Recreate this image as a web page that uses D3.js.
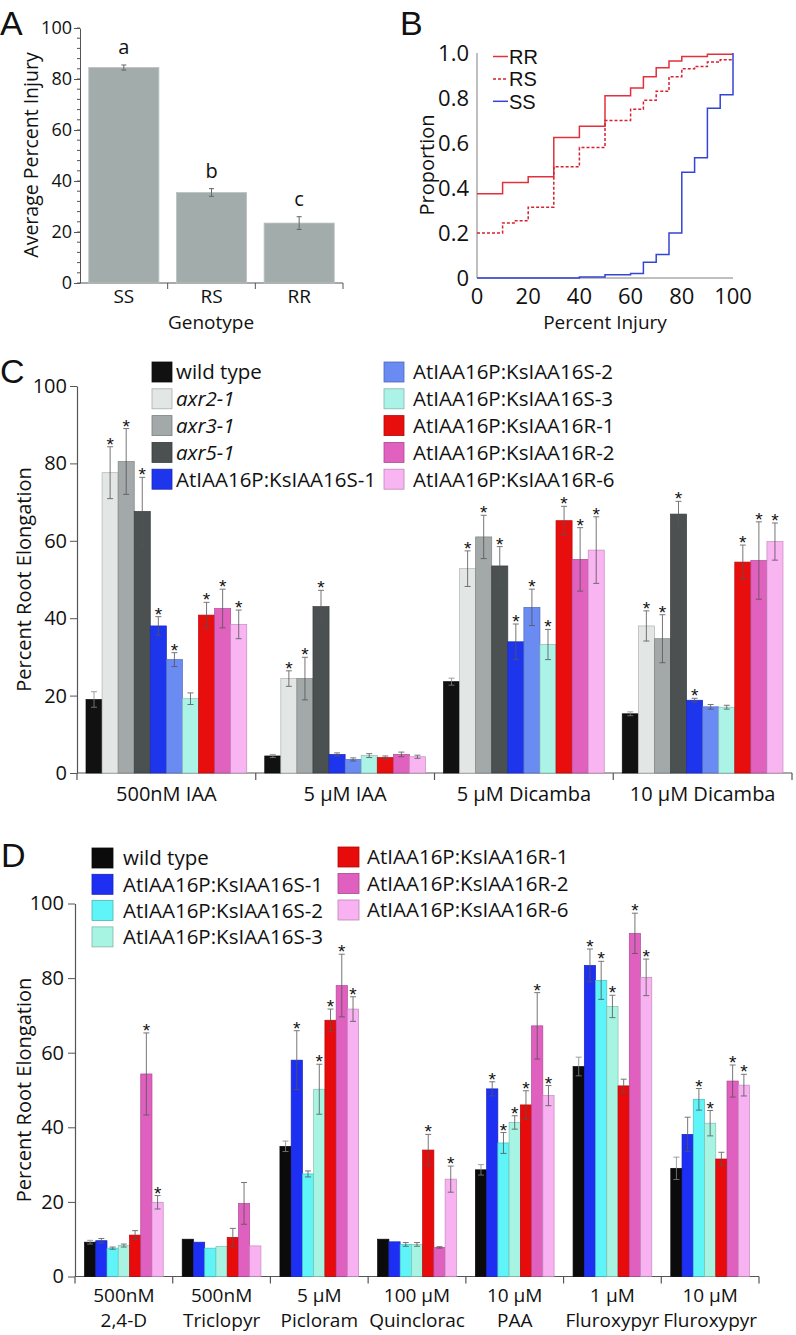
<!DOCTYPE html>
<html><head><meta charset="utf-8">
<script src="https://cdn.jsdelivr.net/npm/d3@7"></script>
<style>
body{margin:0;background:#fff}
svg{display:block}
text{font-family:"Open Sans",sans-serif;fill:#111}
</style>
</head><body>
<svg id="chart" width="796" height="1335"></svg>
<script>
// ---------- Panel A data ----------
const genotypes = ["SS","RS","RR"];
const injuryMean = [84.5, 35.5, 23.5];
const injuryErr = [1.0, 1.5, 2.5];
const injuryLetters = ["a","b","c"];
const aTicks = [0,20,40,60,80,100];

// ---------- Panel B data (cumulative proportion, step functions) ----------
const cdfRRx = [0,10,20,30,40,50,60,65,70,75,80,90,100];
const cdfRRy = [0.375,0.425,0.45,0.625,0.675,0.81,0.845,0.895,0.935,0.965,0.985,0.995,0.995];
const cdfRSx = [0,10,15,20,30,40,50,60,65,70,75,80,85,90,95,100];
const cdfRSy = [0.2,0.245,0.255,0.315,0.495,0.58,0.70,0.75,0.79,0.83,0.895,0.93,0.94,0.96,0.97,0.97];
const cdfSSx = [0,40,50,60,65,70,75,80,85,90,95,100];
const cdfSSy = [0,0.005,0.015,0.02,0.07,0.105,0.20,0.47,0.535,0.755,0.815,1.0];
const bYTicks = [0,0.2,0.4,0.6,0.8,1.0];
const bYTickLabels = ["0","0.2","0.4","0.6","0.8","1.0"];
const bXTicks = [0,20,40,60,80,100];

// ---------- Panel C data ----------
const cTreatments = ["500nM IAA","5 \u03BCM IAA","5 \u03BCM Dicamba","10 \u03BCM Dicamba"];
const cLines = ["wild type","axr2-1","axr3-1","axr5-1","AtIAA16P:KsIAA16S-1","AtIAA16P:KsIAA16S-2","AtIAA16P:KsIAA16S-3","AtIAA16P:KsIAA16R-1","AtIAA16P:KsIAA16R-2","AtIAA16P:KsIAA16R-6"];
const cColors = ["#111111","#e2e6e4","#a3a9a8","#4b5051","#1e35ee","#6a8bf2","#abf3e6","#e80e0e","#e062be","#f9b5f1"];
const cItalic = [false,true,true,true,false,false,false,false,false,false];
const c500nMIAA     = [19.0,77.6,80.5,67.6,38.0,29.3,19.2,40.8,42.5,38.4];
const c500nMIAAErr  = [2.0,6.7,8.5,8.8,2.4,1.8,1.5,3.3,5.0,3.7];
const c500nMIAAStar = [0,1,1,1,1,1,0,1,1,1];
const c5uMIAA       = [4.4,24.4,24.4,43.0,4.8,3.5,4.5,4.0,4.8,4.2];
const c5uMIAAErr    = [0.4,2.0,5.5,4.2,0.4,0.4,0.5,0.4,0.6,0.4];
const c5uMIAAStar   = [0,1,1,1,0,0,0,0,0,0];
const c5uMDic       = [23.6,52.8,61.0,53.5,33.9,42.8,33.2,65.2,55.2,57.6];
const c5uMDicErr    = [0.9,4.6,5.6,5.0,4.6,4.7,3.9,3.7,8.2,8.6];
const c5uMDicStar   = [0,1,1,1,1,1,1,1,1,1];
const c10uMDic      = [15.3,38.0,34.7,66.9,18.8,17.1,17.0,54.5,54.9,59.8];
const c10uMDicErr   = [0.5,3.9,6.2,3.3,0.5,0.6,0.5,4.4,10.0,4.8];
const c10uMDicStar  = [0,1,1,1,1,0,0,1,1,1];
const cTicks = [0,20,40,60,80,100];

// ---------- Panel D data ----------
const dLine1 = ["500nM","500nM","5 \u03BCM","100 \u03BCM","10 \u03BCM","1 \u03BCM","10 \u03BCM"];
const dLine2 = ["2,4-D","Triclopyr","Picloram","Quinclorac","PAA","Fluroxypyr","Fluroxypyr"];
const dLines = ["wild type","AtIAA16P:KsIAA16S-1","AtIAA16P:KsIAA16S-2","AtIAA16P:KsIAA16S-3","AtIAA16P:KsIAA16R-1","AtIAA16P:KsIAA16R-2","AtIAA16P:KsIAA16R-6"];
const dColors = ["#0b0b0b","#1e2ff4","#5ff4f7","#a8f4e2","#e80b0b","#e060c0","#f8b2f1"];
const d24D        = [9.2,9.6,7.6,8.3,11.1,54.3,19.9];
const d24DErr     = [0.5,0.6,0.3,0.4,1.2,11.0,1.8];
const d24DStar    = [0,0,0,0,0,1,1];
const dTric       = [10.0,9.2,7.6,8.1,10.5,19.6,8.2];
const dTricErr    = [0,0,0,0,2.4,5.6,0];
const dTricStar   = [0,0,0,0,0,0,0];
const dPicl       = [34.9,58.0,27.5,50.2,68.7,78.0,71.7];
const dPiclErr    = [1.4,7.9,0.8,6.7,3.0,8.4,3.3];
const dPiclStar   = [0,1,0,1,1,1,1];
const dQuin       = [10.0,9.3,8.6,8.6,33.9,7.8,26.1];
const dQuinErr    = [0,0,0.5,0.5,4.2,0.2,3.5];
const dQuinStar   = [0,0,0,0,1,0,1];
const dPAA        = [28.6,50.3,35.8,41.3,46.0,67.2,48.5];
const dPAAErr     = [1.4,1.9,2.8,1.8,3.8,8.9,2.7];
const dPAAStar    = [0,1,1,1,1,1,1];
const dFlx1       = [56.3,83.4,79.4,72.4,51.1,92.0,80.2];
const dFlx1Err    = [2.5,4.4,5.1,3.0,1.8,5.4,4.9];
const dFlx1Star   = [0,1,1,1,0,1,1];
const dFlx10      = [29.0,38.1,47.5,41.1,31.5,52.4,51.3];
const dFlx10Err   = [3.0,4.6,2.9,3.4,1.8,4.3,2.9];
const dFlx10Star  = [0,0,1,1,0,1,1];
const dTicks = [0,20,40,60,80,100];

const svg = d3.select("#chart");
const AX = "#555";
const LIB = "'Liberation Sans', Arial, sans-serif";

function panelLetter(t, x, y){
  svg.append("text").attr("x",x).attr("y",y).attr("font-size",34)
    .style("font-family",LIB).text(t);
}

// ================= Panel A =================
panelLetter("A", 0, 35);
{
  const y = d3.scaleLinear().domain([0,100]).range([283,28]);
  const x = d3.scaleBand().domain(genotypes).range([80,343]).paddingInner(0.2).paddingOuter(0.1);
  const g = svg.append("g");
  g.append("g").selectAll("line").data(d3.range(0,101,4)).join("line")
    .attr("x1",77).attr("x2",80).attr("y1",d=>y(d)).attr("y2",d=>y(d)).attr("stroke",AX);
  const ya = g.append("g").attr("transform","translate(80,0)")
    .call(d3.axisLeft(y).tickValues(aTicks).tickSize(6).tickSizeOuter(0));
  ya.select(".domain").attr("stroke",AX);
  ya.selectAll(".tick line").attr("stroke",AX);
  ya.selectAll(".tick text").attr("font-size",18).attr("font-family","Open Sans").attr("fill","#111").attr("x",-8);
  g.append("line").attr("x1",80).attr("x2",343).attr("y1",y(0)).attr("y2",y(0)).attr("stroke",AX);
  g.append("g").selectAll("line").data(genotypes).join("line")
    .attr("x1",(d,i)=>80+x.step()*(i+1)).attr("x2",(d,i)=>80+x.step()*(i+1))
    .attr("y1",y(0)).attr("y2",y(0)+6).attr("stroke",AX);
  g.append("g").selectAll("rect").data(genotypes).join("rect")
    .attr("x",d=>x(d)).attr("width",x.bandwidth())
    .attr("y",(d,i)=>y(injuryMean[i])).attr("height",(d,i)=>y(0)-y(injuryMean[i]))
    .attr("fill","#a2adab").attr("stroke","#b9c3c1").attr("stroke-width",0.8);
  const eb = g.append("g").attr("stroke","#666").attr("stroke-width",1);
  genotypes.forEach((d,i)=>{
    const cx = x(d)+x.bandwidth()/2;
    eb.append("line").attr("x1",cx).attr("x2",cx).attr("y1",y(injuryMean[i]-injuryErr[i])).attr("y2",y(injuryMean[i]+injuryErr[i]));
    [injuryMean[i]-injuryErr[i], injuryMean[i]+injuryErr[i]].forEach(v=>
      eb.append("line").attr("x1",cx-2.5).attr("x2",cx+2.5).attr("y1",y(v)).attr("y2",y(v)));
    g.append("text").attr("x",cx).attr("y",y(injuryMean[i]+injuryErr[i])-11).attr("text-anchor","middle")
      .attr("font-size",20).text(injuryLetters[i]);
    g.append("text").attr("x",cx).attr("y",303).attr("text-anchor","middle").attr("font-size",19).text(d);
  });
  g.append("text").attr("x",211).attr("y",329).attr("text-anchor","middle").attr("font-size",19).text("Genotype");
  g.append("text").attr("transform","translate(38,155) rotate(-90)").attr("text-anchor","middle")
    .attr("font-size",19.5).text("Average Percent Injury");
}

// ================= Panel B =================
panelLetter("B", 400, 35);
{
  const x = d3.scaleLinear().domain([0,100]).range([477,733]);
  const y = d3.scaleLinear().domain([0,1]).range([278,53]);
  const g = svg.append("g");
  g.append("line").attr("x1",x(0)).attr("x2",x(0)).attr("y1",y(0)).attr("y2",y(1)).attr("stroke","#aaa").attr("stroke-width",1.5);
  g.append("line").attr("x1",x(0)).attr("x2",x(100)).attr("y1",y(0)).attr("y2",y(0)).attr("stroke","#aaa").attr("stroke-width",1.5);
  g.append("g").selectAll("text").data(bYTicks).join("text")
    .attr("x",469).attr("y",d=>y(d)).attr("dy","0.36em").attr("text-anchor","end").attr("font-size",22)
    .text((d,i)=>bYTickLabels[i]);
  g.append("g").selectAll("text").data(bXTicks).join("text")
    .attr("x",d=>x(d)).attr("y",304).attr("text-anchor","middle").attr("font-size",22).text(d=>d);
  g.append("text").attr("x",605).attr("y",329).attr("text-anchor","middle").attr("font-size",19).text("Percent Injury");
  g.append("text").attr("transform","translate(434,165) rotate(-90)").attr("text-anchor","middle")
    .attr("font-size",20).text("Proportion");
  const line = d3.line().x(d=>x(d[0])).y(d=>y(d[1])).curve(d3.curveStepAfter);
  const series = [
    {name:"RR", xs:cdfRRx, ys:cdfRRy, color:"#e2303c", dash:null},
    {name:"RS", xs:cdfRSx, ys:cdfRSy, color:"#d8202e", dash:"3,2"},
    {name:"SS", xs:cdfSSx, ys:cdfSSy, color:"#3344d6", dash:null}
  ];
  series.forEach((s,i)=>{
    g.append("path").datum(s.xs.map((v,j)=>[v,s.ys[j]])).attr("d",line)
      .attr("fill","none").attr("stroke",s.color).attr("stroke-width",1.5)
      .attr("stroke-dasharray",s.dash);
    const ly = 56.5 + i*22.4;
    g.append("line").attr("x1",493).attr("x2",508).attr("y1",ly).attr("y2",ly)
      .attr("stroke",s.color).attr("stroke-width",1.5).attr("stroke-dasharray",s.dash);
    g.append("text").attr("x",509).attr("y",ly).attr("dy","0.36em").attr("font-size",20)
      .style("font-family",LIB).text(s.name);
  });
}

// ---------- grouped bar helper ----------
function groupedBars(cfg){
  const g = svg.append("g");
  const y = d3.scaleLinear().domain([0,100]).range([cfg.y0, cfg.y100]);
  const x0 = d3.scaleBand().domain(cfg.groups.map((d,i)=>i)).range([cfg.xl, cfg.xr]);
  const x1 = d3.scaleBand().domain(cfg.series).range([cfg.pad, x0.bandwidth()-cfg.pad]);
  const ya = g.append("g").attr("transform",`translate(${cfg.xl},0)`)
    .call(d3.axisLeft(y).tickValues(cfg.ticks).tickSize(7).tickSizeOuter(0));
  ya.select(".domain").attr("stroke",AX).attr("stroke-width",1.2);
  ya.selectAll(".tick line").attr("stroke",AX);
  ya.selectAll(".tick text").attr("font-size",20).attr("font-family","Open Sans").attr("fill","#111").attr("x",cfg.tickLabelX);
  g.append("line").attr("x1",cfg.xl).attr("x2",cfg.xr).attr("y1",y(0)).attr("y2",y(0)).attr("stroke",AX).attr("stroke-width",1.2);
  g.append("g").selectAll("line").data(d3.range(cfg.groups.length+1)).join("line")
    .attr("x1",i=>cfg.xl+x0.step()*i).attr("x2",i=>cfg.xl+x0.step()*i)
    .attr("y1",y(0)).attr("y2",y(0)+7).attr("stroke",AX).attr("stroke-width",1.2);
  cfg.groups.forEach((grp,gi)=>{
    const gg = g.append("g").attr("transform",`translate(${x0(gi)},0)`);
    gg.selectAll("rect").data(cfg.series).join("rect")
      .attr("x",d=>x1(d)).attr("width",x1.bandwidth())
      .attr("y",(d,i)=>y(grp.vals[i])).attr("height",(d,i)=>y(0)-y(grp.vals[i]))
      .attr("fill",(d,i)=>cfg.colors[i])
      .attr("stroke",(d,i)=>d3.color(cfg.colors[i]).darker(0.7)).attr("stroke-width",0.7);
    cfg.series.forEach((s,i)=>{
      const cx = x1(s)+x1.bandwidth()/2;
      const v = grp.vals[i], e = grp.errs[i];
      if (e>0){
        const el = gg.append("g").attr("stroke", i===0? "#888" : "#555").attr("stroke-width",1).attr("opacity",0.8);
        el.append("line").attr("x1",cx).attr("x2",cx).attr("y1",y(v-e)).attr("y2",y(v+e));
        [v-e,v+e].forEach(t=>el.append("line").attr("x1",cx-3).attr("x2",cx+3).attr("y1",y(t)).attr("y2",y(t)));
      }
      if (grp.stars[i]){
        gg.append("text").attr("x",cx).attr("y",y(v+e)+4).attr("text-anchor","middle")
          .attr("font-size",19).style("font-family",LIB).text("*");
      }
    });
    const cxg = x0(gi)+x0.bandwidth()/2;
    g.append("text").attr("x",cxg).attr("y",cfg.labelY).attr("text-anchor","middle").attr("font-size",cfg.labelSize).text(grp.l1);
    if (cfg.twoLine){
      g.append("text").attr("x",cxg).attr("y",cfg.labelY2).attr("text-anchor","middle").attr("font-size",cfg.labelSize).text(grp.l2);
    }
  });
  g.append("text").attr("transform",`translate(${cfg.titleX},${(cfg.y0+cfg.y100)/2}) rotate(-90)`)
    .attr("text-anchor","middle").attr("font-size",20).text("Percent Root Elongation");
  cfg.legend.forEach(col=>{
    col.items.forEach((idx,k)=>{
      const cy = col.y + k*col.dy;
      g.append("rect").attr("x",col.x).attr("y",cy-10).attr("width",col.w).attr("height",20)
        .attr("fill",cfg.colors[idx]).attr("stroke",d3.color(cfg.colors[idx]).darker(0.8)).attr("stroke-width",0.8);
      g.append("text").attr("x",col.tx).attr("y",cy).attr("dy","0.36em").attr("font-size",20.5)
        .attr("font-style", cfg.italic && cfg.italic[idx] ? "italic" : "normal").text(cfg.series[idx]);
    });
  });
}

// ================= Panel C =================
panelLetter("C", 0, 383);
groupedBars({
  y0:773, y100:386, xl:77, xr:792, pad:9, ticks:cTicks, tickLabelX:-10, titleX:31,
  series:cLines, colors:cColors, italic:cItalic, labelY:801, labelSize:20, twoLine:false,
  groups:[
    {l1:cTreatments[0], vals:c500nMIAA, errs:c500nMIAAErr, stars:c500nMIAAStar},
    {l1:cTreatments[1], vals:c5uMIAA, errs:c5uMIAAErr, stars:c5uMIAAStar},
    {l1:cTreatments[2], vals:c5uMDic, errs:c5uMDicErr, stars:c5uMDicStar},
    {l1:cTreatments[3], vals:c10uMDic, errs:c10uMDicErr, stars:c10uMDicStar}
  ],
  legend:[
    {x:152, w:20, tx:176, y:372, dy:26.8, items:[0,1,2,3,4]},
    {x:384, w:20, tx:413, y:372, dy:26.8, items:[5,6,7,8,9]}
  ]
});

// ================= Panel D =================
panelLetter("D", 1, 867);
groupedBars({
  y0:1276.5, y100:903.5, xl:75, xr:759, pad:9.5, ticks:dTicks, tickLabelX:-11, titleX:31,
  series:dLines, colors:dColors, labelY:1302, labelY2:1327, labelSize:19, twoLine:true,
  groups:[
    {l1:dLine1[0], l2:dLine2[0], vals:d24D, errs:d24DErr, stars:d24DStar},
    {l1:dLine1[1], l2:dLine2[1], vals:dTric, errs:dTricErr, stars:dTricStar},
    {l1:dLine1[2], l2:dLine2[2], vals:dPicl, errs:dPiclErr, stars:dPiclStar},
    {l1:dLine1[3], l2:dLine2[3], vals:dQuin, errs:dQuinErr, stars:dQuinStar},
    {l1:dLine1[4], l2:dLine2[4], vals:dPAA, errs:dPAAErr, stars:dPAAStar},
    {l1:dLine1[5], l2:dLine2[5], vals:dFlx1, errs:dFlx1Err, stars:dFlx1Star},
    {l1:dLine1[6], l2:dLine2[6], vals:dFlx10, errs:dFlx10Err, stars:dFlx10Star}
  ],
  legend:[
    {x:92, w:21, tx:123, y:858, dy:26.3, items:[0,1,2,3]},
    {x:338, w:21, tx:367, y:857, dy:26.5, items:[4,5,6]}
  ]
});
</script>
</body></html>
